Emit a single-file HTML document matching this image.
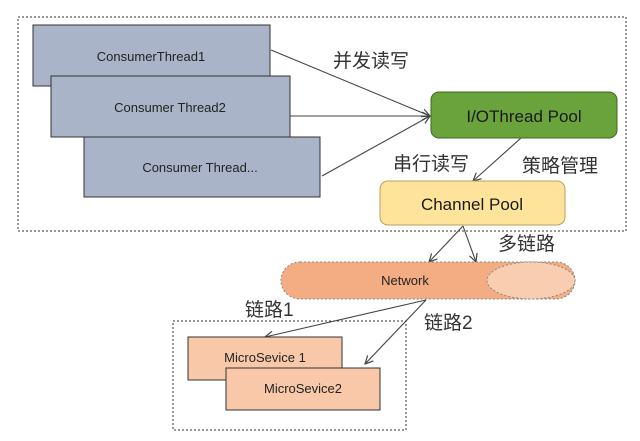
<!DOCTYPE html>
<html><head><meta charset="utf-8"><style>
body{margin:0;background:#fff;width:640px;height:436px;overflow:hidden}
svg text{font-family:"Liberation Sans","Noto Sans CJK SC",sans-serif}
</style></head><body>
<svg width="640" height="436" viewBox="0 0 640 436" xmlns="http://www.w3.org/2000/svg">
<defs><marker id="a" markerWidth="10" markerHeight="10" refX="9" refY="5" orient="auto" markerUnits="userSpaceOnUse"><path d="M1,1 L9,5 L1,9" fill="none" stroke="#444" stroke-width="1.2"/></marker></defs>
<rect x="18" y="17" width="608" height="214" fill="none" stroke="#333" stroke-dasharray="2,2"/>
<rect x="33" y="25" width="237" height="61" fill="#aab4c8" stroke="#333"/>
<text x="151" y="61" font-size="13" text-anchor="middle" fill="#222">ConsumerThread1</text>
<rect x="51" y="76" width="239" height="61" fill="#aab4c8" stroke="#333"/>
<text x="170" y="112" font-size="13" text-anchor="middle" fill="#222">Consumer Thread2</text>
<rect x="84" y="137" width="236" height="60" fill="#aab4c8" stroke="#333"/>
<text x="200" y="172" font-size="13" text-anchor="middle" fill="#222">Consumer Thread...</text>
<g stroke="#444" stroke-width="1.1" fill="none" marker-end="url(#a)">
<line x1="271" y1="50" x2="430" y2="116"/>
<line x1="290" y1="116" x2="430" y2="116"/>
<line x1="322" y1="176" x2="430" y2="116"/>
<line x1="521" y1="138" x2="473" y2="181"/>
<line x1="463" y1="226" x2="429" y2="262"/>
<line x1="463" y1="226" x2="476" y2="262"/>
<line x1="426" y1="300" x2="265" y2="337"/>
<line x1="426" y1="300" x2="365" y2="364"/>
</g>
<rect x="431" y="92" width="186" height="46" rx="8" fill="#6aa23c" stroke="#3d6b22"/>
<text x="524" y="122" font-size="17" text-anchor="middle" fill="#1a1a1a">I/OThread Pool</text>
<rect x="380" y="181" width="185" height="44" rx="8" fill="#fde49a" stroke="#b8a060"/>
<text x="472" y="210" font-size="17" text-anchor="middle" fill="#1a1a1a">Channel Pool</text>
<text x="333" y="67" font-size="19" fill="#333">并发读写</text>
<text x="393" y="170" font-size="19" fill="#333">串行读写</text>
<text x="522" y="172" font-size="19" fill="#333">策略管理</text>
<text x="498" y="250" font-size="19" fill="#333">多链路</text>
<rect x="281" y="262" width="294" height="37" rx="19" ry="18.5" fill="#f4ad82" stroke="#888" stroke-dasharray="2,2"/>
<ellipse cx="531" cy="280.5" rx="44" ry="18.5" fill="#f8cdb0" stroke="#888" stroke-dasharray="2,2"/>
<text x="405" y="285" font-size="13" text-anchor="middle" fill="#222">Network</text>
<text x="245" y="316" font-size="19" fill="#333">链路1</text>
<text x="424" y="329" font-size="19" fill="#333">链路2</text>
<rect x="173" y="321" width="233" height="109" fill="none" stroke="#333" stroke-dasharray="2,2"/>
<rect x="188" y="337" width="154" height="43" fill="#f8c8a8" stroke="#333"/>
<text x="265" y="362" font-size="13" text-anchor="middle" fill="#222">MicroSevice 1</text>
<rect x="226" y="368" width="154" height="42" fill="#f8c8a8" stroke="#333"/>
<text x="303" y="393" font-size="13" text-anchor="middle" fill="#222">MicroSevice2</text>
</svg>
</body></html>
